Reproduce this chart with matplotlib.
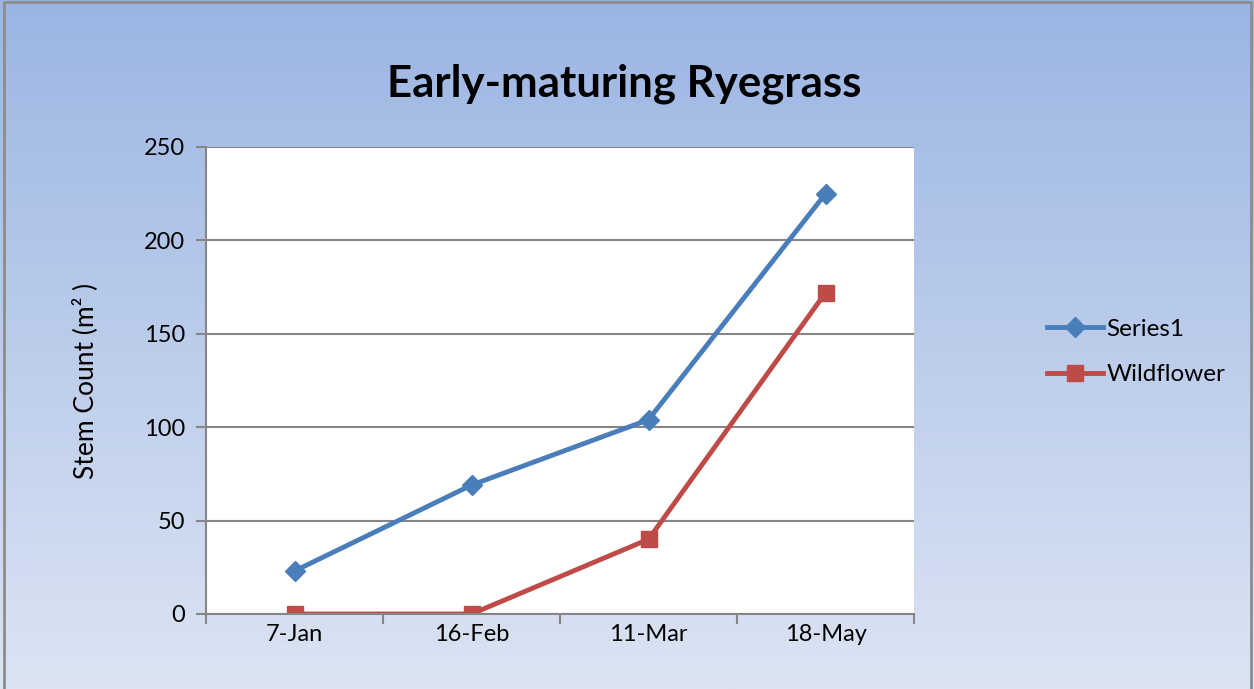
import numpy as np
import matplotlib.pyplot as plt

# 資料
dates = ['7-Jan', '16-Feb', '11-Mar', '18-May']
series1 = [23, 69, 104, 225]
wildflower = [0, 0, 40, 172]
y_ticks = [0, 50, 100, 150, 200, 250]

plt.rcParams['font.family'] = ['Lato', 'DejaVu Sans']

fig = plt.figure(figsize=(12.54, 6.89), dpi=100)

# 背景漸層
bg = fig.add_axes([0, 0, 1, 1], zorder=-10)
grad = np.linspace(0, 1, 256).reshape(-1, 1)
top = np.array([0x9b, 0xb5, 0xe3]) / 255
bot = np.array([0xdc, 0xe4, 0xf3]) / 255
img = top[None, None, :] * (1 - grad[:, :, None]) + bot[None, None, :] * grad[:, :, None]
bg.imshow(img, aspect='auto', extent=[0, 1, 0, 1], origin='upper')
bg.set_xlim(0, 1)
bg.set_ylim(0, 1)
bg.axis('off')
bg.plot([0.003, 0.003, 0.9975, 0.9975], [0, 0.997, 0.997, 0], color='#8c8c8c', lw=2)

ax = fig.add_axes([0.1643, 0.1089, 0.5646, 0.6778])
ax.set_facecolor('white')
x = np.arange(len(dates))
ax.plot(x, series1, color='#4a7ebb', lw=3.5, marker='D', ms=10, label='Series1')
ax.plot(x, wildflower, color='#be4b48', lw=3.5, marker='s', ms=12, label='Wildflower')

ax.set_xlim(-0.5, len(dates) - 0.5)
ax.set_ylim(0, 250)
ax.set_yticks(y_ticks)
ax.set_xticks(np.arange(-0.5, len(dates)), minor=False)
ax.set_xticklabels([])
ax.set_xticks(x, minor=True)
ax.set_xticklabels(dates, minor=True)
ax.tick_params(axis='x', which='minor', length=0, labelsize=17, pad=7)
ax.tick_params(axis='x', which='major', length=7, color='#868686', width=1.5)
ax.tick_params(axis='y', length=7, color='#868686', width=1.5, labelsize=17, pad=8)
ax.grid(axis='y', color='#868686', lw=1.5)
ax.set_axisbelow(True)
for s in ['top', 'right']:
    ax.spines[s].set_visible(False)
for s in ['left', 'bottom']:
    ax.spines[s].set_color('#868686')
    ax.spines[s].set_linewidth(1.5)

ax.set_ylabel('Stem Count (m\u00b2 )', fontsize=19, labelpad=33)
fig.text(0.498, 0.879, 'Early-maturing Ryegrass', ha='center', va='center',
         fontsize=31.5, fontweight='bold')

ax.legend(loc='center left', bbox_to_anchor=(1.157, 0.561), frameon=False,
          fontsize=17.5, handlelength=2.3, labelspacing=1.0, handletextpad=0.15)

plt.savefig('out.png', dpi=100)
